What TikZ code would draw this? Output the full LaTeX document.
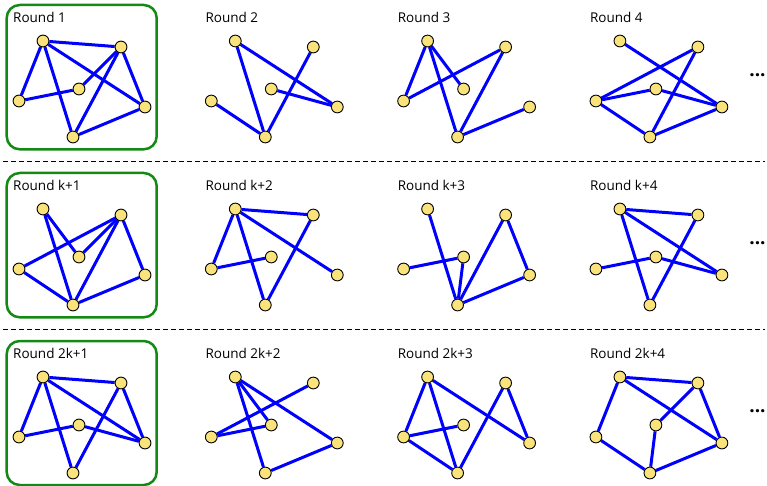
\documentclass[tikz,border=0pt]{standalone}
\usepackage{fontspec}
\setmainfont{Open Sans}
\pgfdeclarelayer{bg}
\pgfsetlayers{bg,main}
\definecolor{nodeyellow}{HTML}{FAE37A}
\definecolor{boxgreen}{HTML}{148A14}
\tikzset{
  vtx/.style={circle,draw=black,line width=0.9pt,fill=nodeyellow,minimum size=11.8pt,inner sep=0pt},
  edg/.style={draw=blue,line width=3pt},
  roundbox/.style={draw=boxgreen,line width=2.5pt,rounded corners=13pt},
  lbl/.style={anchor=base west,inner sep=0pt,font=\fontsize{13.5}{16}\selectfont},
  sepline/.style={draw=black,line width=1pt,dash pattern=on 5pt off 3pt},
  moredots/.style={inner sep=0pt,font=\bfseries\fontsize{19}{21}\selectfont},
}
\newcommand{\graphpanel}[5]{%
  \begin{scope}[shift={({192.3*#2},{168*#3})},name prefix=#1-]
    \node[lbl] (lab) at (13,22.7) {#4};
    \node[vtx] (A) at (43,41) {};
    \node[vtx] (B) at (121,47) {};
    \node[vtx] (C) at (79,89) {};
    \node[vtx] (D) at (19,101) {};
    \node[vtx] (E) at (145,107) {};
    \node[vtx] (F) at (73,137) {};
    \begin{pgfonlayer}{bg}
      \foreach \u/\v in {#5} \draw[edg] (\u) -- (\v);
    \end{pgfonlayer}
  \end{scope}}
\begin{document}
\begin{tikzpicture}[x=1pt,y=-1pt]
\useasboundingbox (0,0) rectangle (767,486);
% green frames
\draw[roundbox] (6.7,5) rectangle (156.7,149.3);
\draw[roundbox] (6.7,173) rectangle (156.7,317.3);
\draw[roundbox] (6.7,341) rectangle (156.7,485);
% separators
\coordinate (s1l) at (3,161.5);
\coordinate (s1r) at (765,161.5);
\coordinate (s2l) at (3,329.5);
\coordinate (s2r) at (765,329.5);
\draw[sepline] (s1l) -- (s1r);
\draw[sepline] (s2l) -- (s2r);
% panels
\graphpanel{p1}{0}{0}{Round 1}{A/B,A/D,A/F,A/E,B/C,B/F,B/E,C/D,F/E}
\graphpanel{p2}{1}{0}{Round 2}{A/F,A/E,B/F,C/E,D/F}
\graphpanel{p3}{2}{0}{Round 3}{A/D,A/C,A/F,D/B,B/F,F/E}
\graphpanel{p4}{3}{0}{Round 4}{A/E,B/D,D/C,D/F,C/E,B/F,F/E}
\graphpanel{p5}{0}{1}{Round k+1}{A/C,A/F,B/D,B/C,B/F,B/E,D/F,F/E}
\graphpanel{p6}{1}{1}{Round k+2}{A/B,A/D,A/F,A/E,D/C,B/F}
\graphpanel{p7}{2}{1}{Round k+3}{A/F,D/C,C/F,F/B,B/E,F/E}
\graphpanel{p8}{3}{1}{Round k+4}{A/B,A/F,A/E,D/C,C/E,B/F}
\graphpanel{p9}{0}{2}{Round 2k+1}{A/B,A/D,A/F,A/E,D/C,C/E,B/F,B/E}
\graphpanel{p10}{1}{2}{Round 2k+2}{A/C,A/F,A/E,D/B,D/C,F/E}
\graphpanel{p11}{2}{2}{Round 2k+3}{A/D,A/F,A/E,D/C,D/F,F/B,B/E}
\graphpanel{p12}{3}{2}{Round 2k+4}{A/B,A/D,A/E,B/C,B/E,C/F,D/F,F/E}
% ellipses
\node[moredots] (dots1) at (757.5,75) {...};
\node[moredots] (dots2) at (757.5,243) {...};
\node[moredots] (dots3) at (757.5,411) {...};
\end{tikzpicture}
\end{document}
